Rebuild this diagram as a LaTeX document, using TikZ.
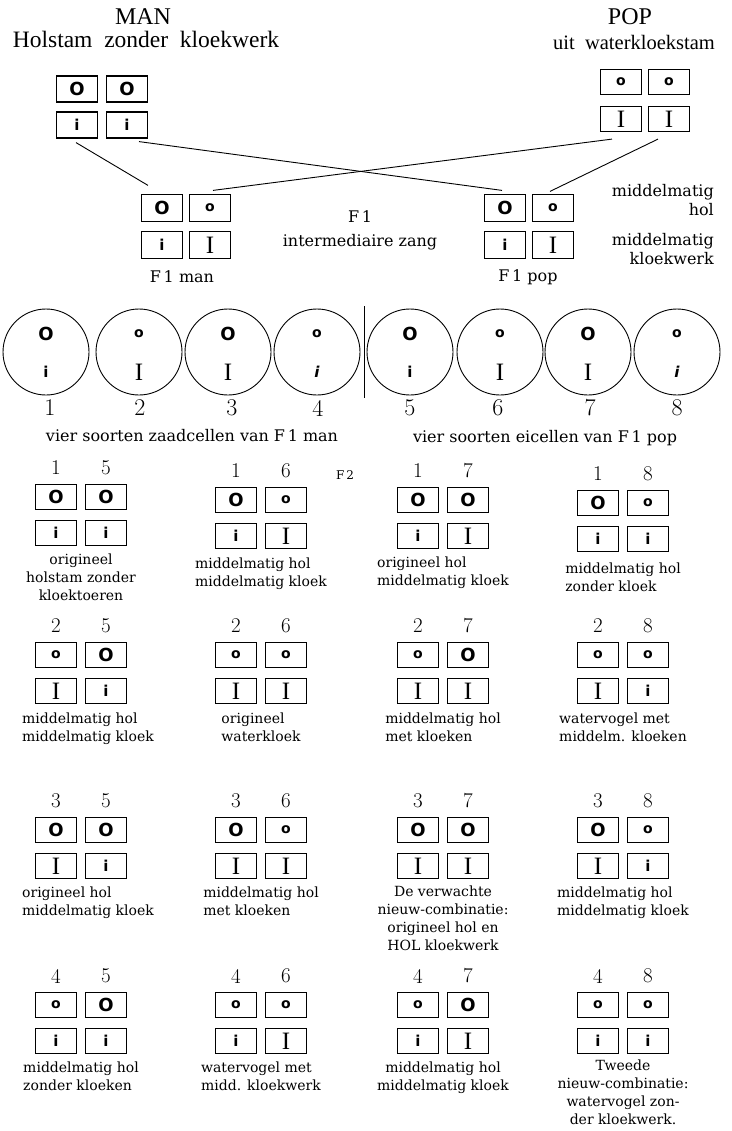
\documentclass[tikz,border=0pt]{standalone}
\usepackage{fontspec}
\newfontfamily\tfont{Liberation Serif}
\newfontfamily\cfont{DejaVu Serif}
\newfontfamily\sfont{DejaVu Sans}
\usetikzlibrary{calc}
\newcommand\symBO{{\sfont\bfseries\fontsize{18}{18}\selectfont O}}
\newcommand\symso{{\sfont\bfseries\fontsize{14}{14}\selectfont o}}
\newcommand\symi{{\sfont\bfseries\fontsize{15}{15}\selectfont i}}
\newcommand\symI{{\tfont\fontsize{25}{25}\selectfont I}}
\newcommand\gnumA{}
\newcommand\gnumB{}
\newcommand\setnums[2]{\renewcommand\gnumA{#1}\renewcommand\gnumB{#2}}
\newcommand\gpair[7]{%
  \node[gbox] (#1a) at ({#2-25},#3) {#4};
  \node[gbox] (#1b) at ({#2+25},#3) {#5};
  \node[gbox] (#1c) at ({#2-25},{#3+36}) {#6};
  \node[gbox] (#1d) at ({#2+25},{#3+36}) {#7};
  \node[fnum] (#1n1) at ({#2-25},{#3-29}) {\gnumA};
  \node[fnum] (#1n2) at ({#2+25},{#3-29}) {\gnumB};
}
\begin{document}
\begin{tikzpicture}[x=1pt,y=-1pt,
  gbox/.style={draw, line width=1.2pt, minimum width=41pt, minimum height=25pt, inner sep=0pt},
  cellc/.style={circle, draw, line width=0.9pt, inner sep=0pt, minimum size=86pt},
  conn/.style={line width=0.9pt},
  title/.style={font=\tfont\fontsize{24}{24}\selectfont},
  capl/.style={font=\cfont\fontsize{14}{18}\selectfont, align=left, anchor=north, inner sep=0pt},
  capc/.style={capl, align=center},
  head/.style={font=\cfont\fontsize{16}{18}\selectfont},
  fonelbl/.style={font=\cfont\fontsize{16}{19}\selectfont},
  fnum/.style={font=\fontsize{21}{21}\selectfont},
  cnum/.style={font=\fontsize{24}{24}\selectfont},
  sym/.style={inner sep=0pt}]
\fill[white] (0,0) rectangle (731,1131);
\useasboundingbox (0,0) rectangle (731,1131);

% parents
\node[title] (man) at (143,17) {MAN};
\node[title, font=\tfont\fontsize{23.5}{24}\selectfont] (mansub) at (146,39) {Holstam\ \ zonder\ \ kloekwerk};
\node[title] (pop) at (630,17) {POP};
\node[title, font=\tfont\fontsize{20.5}{21}\selectfont] (popsub) at (634,42) {uit\ \ waterkloekstam};

\node[gbox, minimum height=26pt] (mA) at (77,89) {\symBO};
\node[gbox, minimum height=26pt] (mB) at (127,89) {\symBO};
\node[gbox, minimum height=26pt] (mC) at (77,125) {\symi};
\node[gbox, minimum height=26pt] (mD) at (127,125) {\symi};

\node[gbox] (pA) at (621,82) {\symso};
\node[gbox] (pB) at (669,82) {\symso};
\node[gbox] (pC) at (621,119) {\symI};
\node[gbox] (pD) at (669,119) {\symI};

% F1
\node[gbox, minimum height=27pt] (fmA) at (162,208) {\symBO};
\node[gbox, minimum height=27pt] (fmB) at (210,208) {\symso};
\node[gbox, minimum height=27pt] (fmC) at (162,245) {\symi};
\node[gbox, minimum height=27pt] (fmD) at (210,245) {\symI};
\node[fonelbl] (fmlbl) at (182,277) {F\,1 man};

\node[gbox, minimum height=27pt] (fpA) at (505,208) {\symBO};
\node[gbox, minimum height=27pt] (fpB) at (553,208) {\symso};
\node[gbox, minimum height=27pt] (fpC) at (505,245) {\symi};
\node[gbox, minimum height=27pt] (fpD) at (553,245) {\symI};
\node[fonelbl] (fplbl) at (528,277) {F\,1 pop};

\node[fonelbl] (f1) at (360,217) {F\,1};
\node[fonelbl] (f1z) at (360,242) {intermediaire zang};

\node[fonelbl, anchor=east, align=right, inner sep=0pt] (rh) at (714,200) {middelmatig\\hol};
\node[fonelbl, anchor=east, align=right, inner sep=0pt] (rk) at (714,249) {middelmatig\\kloekwerk};

\draw[conn] ([xshift=-1pt,yshift=-4pt]mC.south) -- ([xshift=-14pt,yshift=8.5pt]fmA.north);
\draw[conn] ([xshift=12pt,yshift=-3pt]mD.south) -- ([xshift=-3pt,yshift=3.5pt]fpA.north);
\draw[conn] ([xshift=-9pt,yshift=-7pt]pC.south) -- ([xshift=3pt,yshift=3.5pt]fmB.north);
\draw[conn] ([xshift=-11pt,yshift=-7pt]pD.south) -- ([xshift=-3pt,yshift=2.5pt]fpB.north);

% gametes
\foreach \n/\x/\t/\b/\nx in {1/46/\symBO/\symi/50, 2/139/\symso/\symI/140, 3/228/\symBO/\symI/232, 4/317/\symso/{\itshape\symi}/318,
  5/410/\symBO/\symi/410, 6/500/\symso/\symI/498, 7/588/\symBO/\symI/590, 8/677/\symso/{\itshape\symi}/677}{
  \node[cellc] (c\n) at (\x,352) {};
  \node[sym] (c\n t) at (\x,334) {\t};
  \node[sym] (c\n b) at (\x,372) {\b};
  \node[cnum] (c\n n) at (\nx,408) {\n};
}
\draw[conn] (364,306) -- (364,398);
\node[head] (hm) at (192,436) {vier soorten zaadcellen van F\,1 man};
\node[head] (hp) at (545,438) {vier soorten eicellen van F\,1 pop};

% F2
\node[font=\cfont\fontsize{12}{12}\selectfont] (f2) at (345,475) {F\,2};

\setnums{1}{5}\gpair{g15}{81}{497}{\symBO}{\symBO}{\symi}{\symi}
\node[capc] (t15) at (81,554) {origineel\\holstam zonder\\kloektoeren};
\setnums{1}{6}\gpair{g16}{261}{500}{\symBO}{\symso}{\symi}{\symI}
\node[capl] (t16) at (261,558) {middelmatig hol\\middelmatig kloek};
\setnums{1}{7}\gpair{g17}{443}{500}{\symBO}{\symBO}{\symi}{\symI}
\node[capl] (t17) at (443,557) {origineel hol\\middelmatig kloek};
\setnums{1}{8}\gpair{g18}{623}{503}{\symBO}{\symso}{\symi}{\symi}
\node[capl] (t18) at (623,563) {middelmatig hol\\zonder kloek};

\setnums{2}{5}\gpair{g25}{81}{655}{\symso}{\symBO}{\symI}{\symi}
\node[capl] (t25) at (88,713) {middelmatig hol\\middelmatig kloek};
\setnums{2}{6}\gpair{g26}{261}{655}{\symso}{\symso}{\symI}{\symI}
\node[capl] (t26) at (261,713) {origineel\\waterkloek};
\setnums{2}{7}\gpair{g27}{443}{655}{\symso}{\symBO}{\symI}{\symI}
\node[capl] (t27) at (443,713) {middelmatig hol\\met kloeken};
\setnums{2}{8}\gpair{g28}{623}{655}{\symso}{\symso}{\symI}{\symi}
\node[capl] (t28) at (623,713) {watervogel met\\middelm. kloeken};

\setnums{3}{5}\gpair{g35}{81}{830}{\symBO}{\symBO}{\symI}{\symi}
\node[capl] (t35) at (88,887) {origineel hol\\middelmatig kloek};
\setnums{3}{6}\gpair{g36}{261}{830}{\symBO}{\symso}{\symI}{\symI}
\node[capl] (t36) at (261,887) {middelmatig hol\\met kloeken};
\setnums{3}{7}\gpair{g37}{443}{830}{\symBO}{\symBO}{\symI}{\symI}
\node[capc] (t37) at (443,886) {De verwachte\\nieuw-combinatie:\\origineel hol en\\HOL kloekwerk};
\setnums{3}{8}\gpair{g38}{623}{830}{\symBO}{\symso}{\symI}{\symi}
\node[capl] (t38) at (623,887) {middelmatig hol\\middelmatig kloek};

\setnums{4}{5}\gpair{g45}{81}{1005}{\symso}{\symBO}{\symi}{\symi}
\node[capl] (t45) at (81,1062) {middelmatig hol\\zonder kloeken};
\setnums{4}{6}\gpair{g46}{261}{1005}{\symso}{\symso}{\symi}{\symI}
\node[capl] (t46) at (261,1062) {watervogel met\\midd. kloekwerk};
\setnums{4}{7}\gpair{g47}{443}{1005}{\symso}{\symBO}{\symi}{\symI}
\node[capc] (t47) at (443,1062) {middelmatig hol\\middelmatig kloek};
\setnums{4}{8}\gpair{g48}{623}{1005}{\symso}{\symso}{\symi}{\symi}
\node[capc] (t48) at (623,1060) {Tweede\\nieuw-combinatie:\\watervogel zon-\\der kloekwerk.};
\end{tikzpicture}
\end{document}
